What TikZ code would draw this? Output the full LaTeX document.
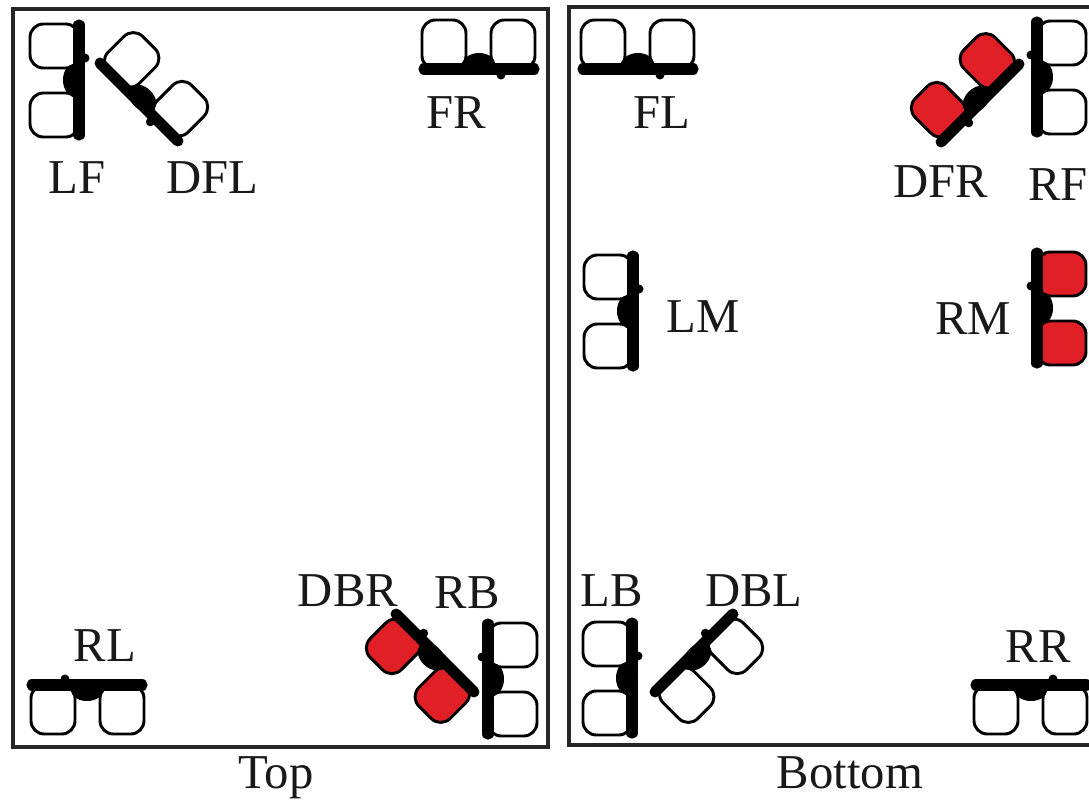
\documentclass[tikz,border=0pt]{standalone}
\usepackage{fontspec}
\setmainfont{Liberation Serif}
\usepackage{xcolor}
\definecolor{seatred}{HTML}{E01F26}
\tikzset{
  tag/.style = {
      font=\fontsize{36.5}{40}\selectfont,
      text=black!90,
      inner sep=0pt
  },
  frame/.style = {
      draw=black!85,
      line width=2.3pt
  },
  seat/.style = {
      draw=black,
      line width=2.2pt,
      rounded corners=10pt
  },
  rail/.style = {
      draw=black,
      line width=8.4pt,
      line cap=round
  },
  pics/sensor/.style = {
    code = {
      \draw[seat, fill=#1] (-49,-56) rectangle (0,-12);
      \draw[seat, fill=#1] (-49,13) rectangle (0,57);
      \draw[rail] (0,-55) -- (0,55);
      \fill (-5,0) ellipse [x radius=11, y radius=16];
      \fill (6,-22) circle [radius=4.5];
    }
  }
}
\begin{document}
\begin{tikzpicture}[x=0.75pt, y=-0.75pt]
    \clip (0,0) rectangle (1089,801);
    \fill[white] (0,0) rectangle (1089,801);
    % Frames
    \draw[frame] (13,9) rectangle (548,747);
    \draw[frame] (569,7) rectangle (1100,745);
    % Top side
    \pic at (79,80) {sensor=white};
    \pic[rotate=-135] at (139,102) {sensor=white};
    \pic[rotate=-90] at (479,69) {sensor=white};
    \pic[rotate=90] at (87,685) {sensor=white};
    \pic[rotate=45] at (435,653) {sensor=seatred};
    \pic[xscale=-1] at (488,679) {sensor=white};
    % Bottom side
    \pic[rotate=-90] at (638,69) {sensor=white};
    \pic[xscale=-1, rotate=-135] at (980,103) {sensor=seatred};
    \pic[xscale=-1] at (1037,77) {sensor=white};
    \pic at (633,311) {sensor=white};
    \pic[xscale=-1] at (1037,308) {sensor=seatred};
    \pic at (632,678) {sensor=white};
    \pic[xscale=-1, rotate=45] at (694,653) {sensor=white};
    \pic[xscale=-1, rotate=90] at (1031,685) {sensor=white};
    % Labels
    \node[tag] (nLF) at (77,178) {LF};
    \node[tag] (nDFL) at (212,178) {DFL};
    \node[tag] (nFR) at (456,113) {FR};
    \node[tag] (nRL) at (105,646) {RL};
    \node[tag] (nDBR) at (348,591) {DBR};
    \node[tag] (nRB) at (467,593) {RB};
    \node[tag] (nFL) at (662,113) {FL};
    \node[tag] (nDFR) at (941,182) {DFR};
    \node[tag] (nRF) at (1058,185) {RF};
    \node[tag] (nLM) at (703,317) {LM};
    \node[tag] (nRM) at (973,319) {RM};
    \node[tag] (nLB) at (612,591) {LB};
    \node[tag] (nDBL) at (754,591) {DBL};
    \node[tag] (nRR) at (1038,647) {RR};
    \node[tag, anchor=base] (nTop) at (276,788) {Top};
    \node[tag, anchor=base] (nBottom) at (850,788) {Bottom};
\end{tikzpicture}
\end{document}
